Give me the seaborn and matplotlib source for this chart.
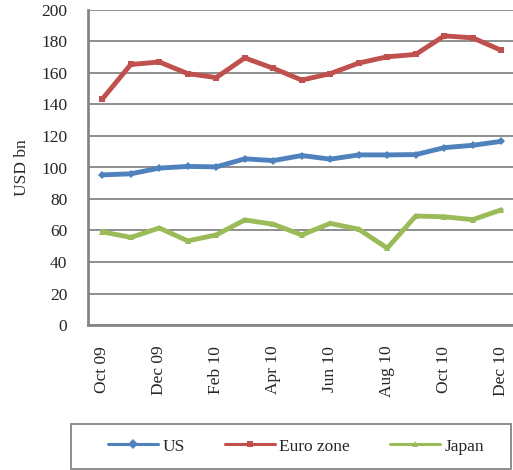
import matplotlib
matplotlib.use("Agg")
import matplotlib.pyplot as plt
from matplotlib.lines import Line2D
from matplotlib.patches import Rectangle
import pandas as pd
import seaborn as sns

months = ["Oct 09", "Nov 09", "Dec 09", "Jan 10", "Feb 10", "Mar 10", "Apr 10",
          "May 10", "Jun 10", "Jul 10", "Aug 10", "Sep 10", "Oct 10", "Nov 10", "Dec 10"]
us = [95.3, 96.0, 99.6, 100.7, 100.4, 105.5, 104.4, 107.6, 105.3, 108.0, 108.0, 108.2,
      112.6, 114.1, 116.6]
euro_zone = [143.4, 165.4, 167.0, 159.6, 157.1, 169.6, 163.0, 155.5, 159.6, 166.3,
             170.3, 171.8, 183.6, 182.3, 174.4]
japan = [59.2, 55.6, 61.6, 53.4, 57.2, 66.7, 64.0, 57.2, 64.5, 60.8, 48.8, 69.2,
         68.7, 66.9, 73.1]

series_names = ["US", "Euro zone", "Japan"]
colors = {"US": "#4F81BD", "Euro zone": "#C0504D", "Japan": "#9BBB59"}
markers = {"US": "D", "Euro zone": "s", "Japan": "^"}

rows = []
for name, vals in zip(series_names, [us, euro_zone, japan]):
    for i, v in enumerate(vals):
        rows.append({"idx": i, "month": months[i], "value": v, "region": name})
df = pd.DataFrame(rows)

sns.set_theme(style="white")
plt.rcParams["font.family"] = ["Liberation Serif", "DejaVu Serif"]
FS = 12.5

W, H = 513, 470
fig = plt.figure(figsize=(W / 100, H / 100), dpi=100)
ax = fig.add_axes([88 / W, 145 / H, 427.5 / W, 315 / H])

sns.lineplot(data=df, x="idx", y="value", hue="region", style="region",
             hue_order=series_names, style_order=series_names,
             palette=colors, markers=markers, dashes=False,
             linewidth=3.5, markersize=4.5, markeredgewidth=0,
             legend=False, ax=ax)

grid_c = "#868686"
ax.set_xlim(-0.5, 14.5)
ax.set_ylim(0, 200)
ax.set_yticks(range(0, 201, 20))
ax.yaxis.grid(True, color=grid_c, linewidth=1.3)
ax.xaxis.grid(False)
ax.set_axisbelow(True)

ax.set_xticks(range(0, 15, 2))
ax.set_xticklabels(months[::2], rotation=90, fontsize=FS)
ax.set_xticks([k - 0.5 for k in range(0, 16, 2)], minor=True)
ax.tick_params(axis="x", which="major", length=0, pad=15)
ax.tick_params(axis="x", which="minor", length=4, width=1.5, color=grid_c, direction="out")
ax.tick_params(axis="y", length=4, width=1.5, color=grid_c, direction="out",
               labelsize=FS, pad=11)

for s in ["top", "right"]:
    ax.spines[s].set_visible(False)
for s in ["left", "bottom"]:
    ax.spines[s].set_color(grid_c)
    ax.spines[s].set_linewidth(2)

ax.set_xlabel("")
ax.set_ylabel("USD bn", fontsize=FS)
ax.yaxis.set_label_coords(-0.135, 0.5)

# legend box drawn as a plain rectangle, entries laid out inside it
fig.patches.append(Rectangle((71 / W, 1 - 469 / H), 440 / W, 45 / H,
                             transform=fig.transFigure, fill=False,
                             edgecolor=grid_c, linewidth=1.3))
handles = [Line2D([0], [0], color=colors[n], marker=markers[n], linewidth=2.2,
                  markersize=5, markeredgewidth=0) for n in series_names]
fig.legend(handles, series_names, loc="center",
           bbox_to_anchor=(296 / W, 1 - 446.5 / H), ncol=3,
           fontsize=FS, frameon=False,
           handlelength=2.9, columnspacing=2.3, handletextpad=0.25)

fig.savefig("out.png", dpi=100)
